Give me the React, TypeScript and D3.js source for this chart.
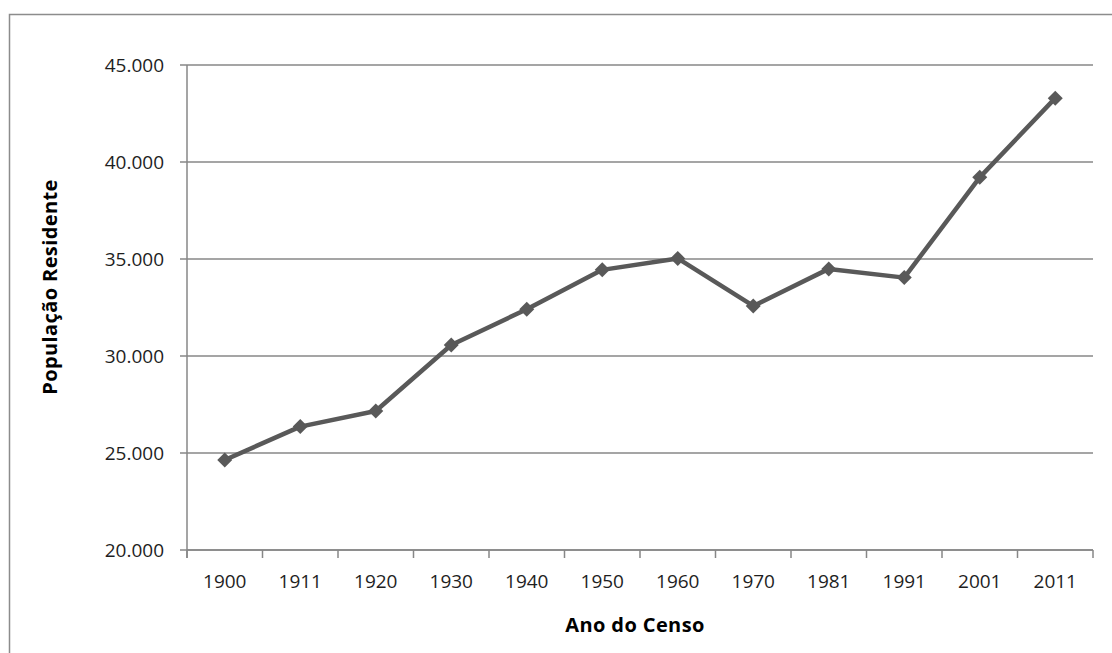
import React from "react";
import * as d3 from "d3";

// Census years and resident population
const years: string[] = ["1900", "1911", "1920", "1930", "1940", "1950", "1960", "1970", "1981", "1991", "2001", "2011"];
const population: number[] = [24640, 26360, 27165, 30570, 32410, 34440, 35030, 32580, 34490, 34040, 39210, 43290];
const yTicks: number[] = [20000, 25000, 30000, 35000, 40000, 45000];

const W = 1112;
const H = 653;
const plot = { left: 187, right: 1093, top: 65, bottom: 550 };
const gridColor = "#878787";
const lineColor = "#595959";
const font = "'Open Sans', 'DejaVu Sans', sans-serif";

const fmt = (v: number) => d3.format(",")(v).replace(/,/g, ".");

// square rotated 45 degrees
const diamondPath = (r: number) => `M0,${-r}L${r},0L0,${r}L${-r},0Z`;

export default function App() {
  const x = d3.scaleBand<string>().domain(years).range([plot.left, plot.right]);
  const y = d3.scaleLinear().domain([20000, 45000]).range([plot.bottom, plot.top]);

  const pts = years.map((yr, i) => [x(yr)! + x.bandwidth() / 2, y(population[i])] as [number, number]);
  const path = d3.line()(pts) || "";
  const boundaries = [...years.map((yr) => x(yr)!), plot.right];

  return (
    <svg width={W} height={H} style={{ position: "absolute", left: 0, top: 0, background: "#fff" }}>
      <rect x={9.5} y={14.5} width={W + 20} height={H + 20} fill="#fff" stroke="#8c8c8c" strokeWidth={1.5} />

      {/* horizontal gridlines and y ticks */}
      {yTicks.map((t) => (
        <g key={t}>
          <line x1={plot.left - 7} x2={plot.right} y1={y(t)} y2={y(t)} stroke={gridColor} strokeWidth={1.5} />
          <text x={164} y={y(t)} dy="0.36em" textAnchor="end" fontFamily={font} fontSize={19} fill="#1e1e1e">
            {fmt(t)}
          </text>
        </g>
      ))}

      {/* axes */}
      <line x1={plot.left} x2={plot.left} y1={plot.top} y2={plot.bottom + 8} stroke={gridColor} strokeWidth={1.5} />
      <line x1={plot.left} x2={plot.right} y1={plot.bottom} y2={plot.bottom} stroke={gridColor} strokeWidth={1.5} />
      {boundaries.map((b, i) => (
        <line key={i} x1={b} x2={b} y1={plot.bottom} y2={plot.bottom + 8} stroke={gridColor} strokeWidth={1.5} />
      ))}
      {years.map((yr) => (
        <text key={yr} x={x(yr)! + x.bandwidth() / 2} y={588} textAnchor="middle" fontFamily={font} fontSize={19} fill="#1e1e1e">
          {yr}
        </text>
      ))}

      {/* series */}
      <path d={path} fill="none" stroke={lineColor} strokeWidth={4.5} strokeLinejoin="round" />
      {pts.map(([px, py], i) => (
        <path key={i} d={diamondPath(7.5)} transform={`translate(${px},${py})`} fill={lineColor} />
      ))}

      {/* axis titles */}
      <text x={635} y={632} textAnchor="middle" fontFamily={font} fontSize={20} fontWeight="bold" letterSpacing={0.4} fill="#000">
        Ano do Censo
      </text>
      <text
        transform={`translate(57,287) rotate(-90)`}
        textAnchor="middle"
        fontFamily={font}
        fontSize={20}
        fontWeight="bold"
        letterSpacing={0.4}
        fill="#000"
      >
        População Residente
      </text>
    </svg>
  );
}
